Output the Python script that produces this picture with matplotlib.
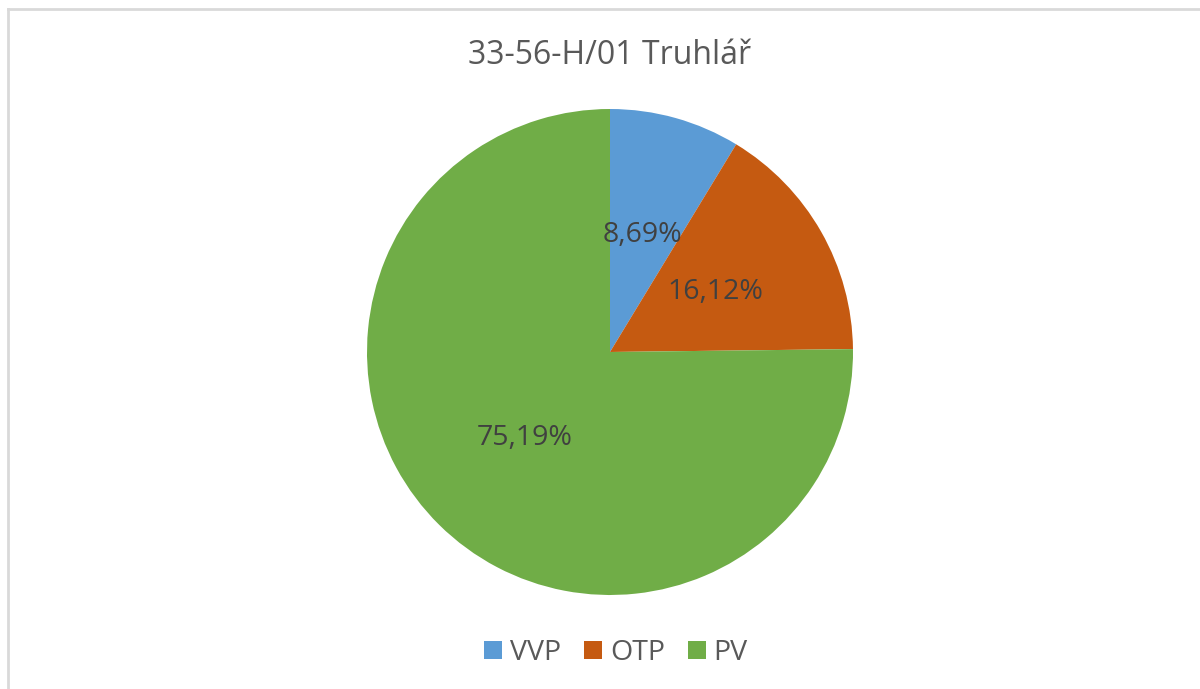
import matplotlib
matplotlib.use("Agg")
import matplotlib.pyplot as plt
from matplotlib.lines import Line2D
from matplotlib.patches import Patch

title = "33-56-H/01 Truhlář"
categories = ["VVP", "OTP", "PV"]
values = [8.69, 16.12, 75.19]
colors = ["#5B9BD5", "#C55A11", "#70AD47"]

plt.rcParams['font.family'] = ['Open Sans', 'DejaVu Sans']

fig = plt.figure(figsize=(12, 6.89), dpi=100)
fig.patch.set_facecolor("white")

# chart border (top and left visible)
fig.add_artist(Line2D([8/1200, 1], [1 - 9/689, 1 - 9/689], transform=fig.transFigure, color="#D9D9D9", lw=2))
fig.add_artist(Line2D([8/1200, 8/1200], [0, 1 - 9/689], transform=fig.transFigure, color="#D9D9D9", lw=2))

ax = fig.add_axes([(610 - 243) / 1200, (689 - 352 - 243) / 689, 486 / 1200, 486 / 689])
wedges, texts, autotexts = ax.pie(
    values, colors=colors, startangle=90, counterclock=False, radius=1.0,
    autopct=lambda p: f"{p:.2f}%".replace(".", ","), pctdistance=0.5,
    wedgeprops=dict(linewidth=0), textprops=dict(color="#404040", fontsize=20.5))
ax.set_xlim(-1, 1)
ax.set_ylim(-1, 1)
ax.set_aspect("equal")

fig.text(610 / 1200, 1 - 56 / 689, title, ha="center", va="center", fontsize=23, color="#595959")

handles = [Patch(facecolor=c, edgecolor="none") for c in colors]
fig.legend(handles, categories, loc="center", bbox_to_anchor=(616 / 1200, 1 - 653 / 689), ncol=3,
           frameon=False, fontsize=20.5, labelcolor="#595959", handlelength=0.63, handleheight=0.63,
           handletextpad=0.28, columnspacing=0.8)

fig.savefig("out.png", dpi=100, facecolor="white")
